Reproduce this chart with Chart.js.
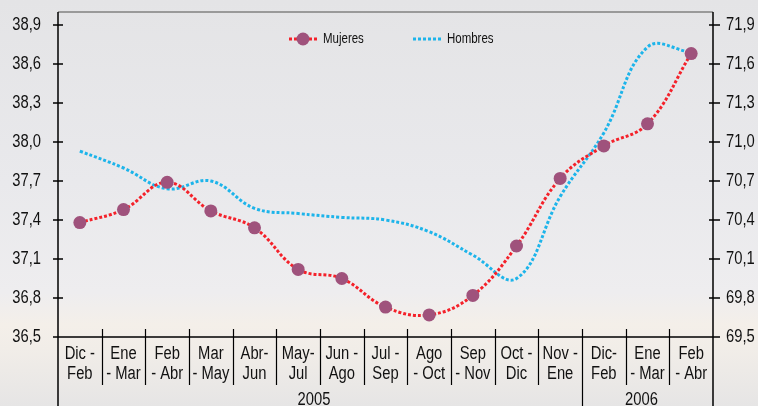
<!DOCTYPE html>
<html>
<head>
<meta charset="utf-8">
<script src="https://cdn.jsdelivr.net/npm/chart.js@4.4.1/dist/chart.umd.min.js"></script>
<style>
  html, body { margin:0; padding:0; background:#e9e9eb; }
  #wrap { width:758px; height:406px; }
</style>
</head>
<body>
<div id="wrap"><canvas id="lineChart" width="758" height="406"></canvas></div>
<script>
const categories = [
  ['Dic -','Feb'], ['Ene','- Mar'], ['Feb','- Abr'], ['Mar','- May'], ['Abr-','Jun'],
  ['May-','Jul'], ['Jun -','Ago'], ['Jul -','Sep'], ['Ago','- Oct'], ['Sep','- Nov'],
  ['Oct -','Dic'], ['Nov -','Ene'], ['Dic-','Feb'], ['Ene','- Mar'], ['Feb','- Abr']
]
const years = ['2005', '2006']
const yearSpans = [12, 3]

const mujeres = [37.38, 37.48, 37.69, 37.47, 37.34, 37.02, 36.95, 36.73, 36.67, 36.82, 37.20, 37.72, 37.97, 38.14, 38.68]
const hombres = [70.93, 70.80, 70.64, 70.70, 70.49, 70.45, 70.42, 70.40, 70.31, 70.13, 69.95, 70.58, 71.07, 71.73, 71.69]

const leftTicks = [36.5, 36.8, 37.1, 37.4, 37.7, 38.0, 38.3, 38.6, 38.9]
const rightTicks = [69.5, 69.8, 70.1, 70.4, 70.7, 71.0, 71.3, 71.6, 71.9]

const FONT = '"Liberation Sans", Arial, sans-serif'
const fmt = v => Number(v).toFixed(1).replace('.', ',')

// the original uses a narrow face; squeeze Liberation Sans to fake it
function narrowText(ctx, str, x, y, size, align) {
  ctx.save()
  ctx.translate(x, y)
  ctx.scale(0.82, 1)
  ctx.font = size + 'px ' + FONT
  ctx.textAlign = align
  ctx.textBaseline = 'middle'
  ctx.fillText(str, 0, 0)
  ctx.restore()
}

// faded photo-ish backdrop
const backdrop = {
  id: 'backdrop',
  beforeDraw(chart) {
    const { ctx, width, height } = chart
    ctx.save()
    const g = ctx.createLinearGradient(0, 0, 0, height)
    g.addColorStop(0, '#e4e4e6')
    g.addColorStop(0.45, '#e9e9ec')
    g.addColorStop(0.72, '#eeedef')
    g.addColorStop(0.8, '#f4efe9')
    g.addColorStop(0.86, '#f1ede8')
    g.addColorStop(1, '#e6e5e5')
    ctx.fillStyle = g
    ctx.fillRect(0, 0, width, height)
    ctx.restore()
  }
}

// axis lines, tick marks + labels, category separators, year row, legend
const frame = {
  id: 'frame',
  afterDraw(chart) {
    const { ctx, chartArea: a, height } = chart
    const x = chart.scales.x, yl = chart.scales.y, yr = chart.scales.y1
    const step = (a.right - a.left) / categories.length
    ctx.save()
    ctx.strokeStyle = '#9a9a9a'
    ctx.lineWidth = 2
    ctx.beginPath(); ctx.moveTo(a.left, a.top); ctx.lineTo(a.right, a.top); ctx.stroke()

    ctx.strokeStyle = '#000'
    ctx.lineWidth = 1.5
    ctx.beginPath()
    ctx.moveTo(a.left, a.top); ctx.lineTo(a.left, height)
    ctx.moveTo(a.right, a.top); ctx.lineTo(a.right, height)
    ctx.moveTo(a.left, a.bottom); ctx.lineTo(a.right + 6, a.bottom)
    leftTicks.forEach(v => { const p = yl.getPixelForValue(v); ctx.moveTo(a.left - 5, p); ctx.lineTo(a.left + 5, p) })
    rightTicks.forEach(v => { const p = yr.getPixelForValue(v); ctx.moveTo(a.right - 4, p); ctx.lineTo(a.right + 7, p) })
    ctx.stroke()

    ctx.lineWidth = 1.2
    ctx.beginPath()
    let acc = 0
    const yearEdges = yearSpans.map(s => (acc += s))
    for (let i = 1; i < categories.length; i++) {
      const px = Math.round(a.left + i * step) + 0.5
      ctx.moveTo(px, a.bottom - 8)
      ctx.lineTo(px, yearEdges.includes(i) ? height : a.bottom + 48)
    }
    ctx.stroke()

    ctx.fillStyle = '#111'
    leftTicks.forEach(v => narrowText(ctx, fmt(v), a.left - 17, yl.getPixelForValue(v), 18, 'right'))
    rightTicks.forEach(v => narrowText(ctx, fmt(v), a.right + 13, yr.getPixelForValue(v), 18, 'left'))
    categories.forEach((lines, i) => {
      const cx = x.getPixelForValue(i)
      lines.forEach((t, j) => narrowText(ctx, t, cx, a.bottom + 17 + j * 20, 18, 'center'))
    })
    let start = 0
    years.forEach((y, i) => {
      const cx = a.left + (start + yearSpans[i] / 2) * step - 6
      narrowText(ctx, y, cx, a.bottom + 63, 18, 'center')
      start += yearSpans[i]
    })

    // legend
    const ly = 39
    const drawSample = (ds, x0) => {
      ctx.strokeStyle = ds.borderColor
      ctx.lineWidth = ds.borderWidth
      ctx.setLineDash(ds.borderDash)
      ctx.beginPath(); ctx.moveTo(x0, ly); ctx.lineTo(x0 + 28, ly); ctx.stroke()
      ctx.setLineDash([])
      if (ds.pointRadius > 0) {
        ctx.fillStyle = ds.pointBackgroundColor
        ctx.beginPath(); ctx.arc(x0 + 14, ly, ds.pointRadius, 0, Math.PI * 2); ctx.fill()
      }
      ctx.fillStyle = '#111'
      narrowText(ctx, ds.label, x0 + 34, ly, 14, 'left')
    }
    drawSample(chart.data.datasets[0], 289)
    drawSample(chart.data.datasets[1], 413)
    ctx.restore()
  }
}

const ctx = document.getElementById('lineChart').getContext('2d')
const lineChart = new Chart(ctx, {
  type: 'line',
  data: {
    labels: categories,
    datasets: [
      { label:'Mujeres', data: mujeres, yAxisID:'y', borderColor:'#f4212a', borderWidth:3, borderDash:[3,2],
        tension:0.4, pointRadius:6.5, pointHoverRadius:6.5, pointBackgroundColor:'#9f527c', pointBorderWidth:0 },
      { label:'Hombres', data: hombres, yAxisID:'y1', borderColor:'#1db4ea', borderWidth:3, borderDash:[3,2],
        tension:0.4, pointRadius:0, pointBorderWidth:0 }
    ]
  },
  options: {
    responsive: false,
    animation: false,
    devicePixelRatio: 1,
    layout: { padding: { top: 12, left: 0, right: 0, bottom: 0 } },
    plugins: { legend: { display:false }, tooltip: { enabled:false } },
    scales: {
      x: {
        offset: true,
        grid: { display:false }, border: { display:false },
        ticks: { display:false, autoSkip:false },
        afterFit: s => { s.height = 69 }
      },
      y: {
        position: 'left', min: 36.5, max: 39.0,
        grid: { display:false }, border: { display:false },
        afterBuildTicks: s => { s.ticks = leftTicks.map(v => ({ value:v })) },
        ticks: { display:false },
        afterFit: s => { s.width = 58 }
      },
      y1: {
        position: 'right', min: 69.5, max: 72.0,
        grid: { display:false }, border: { display:false },
        afterBuildTicks: s => { s.ticks = rightTicks.map(v => ({ value:v })) },
        ticks: { display:false },
        afterFit: s => { s.width = 45 }
      }
    }
  },
  plugins: [backdrop, frame]
})
</script>
</body>
</html>
